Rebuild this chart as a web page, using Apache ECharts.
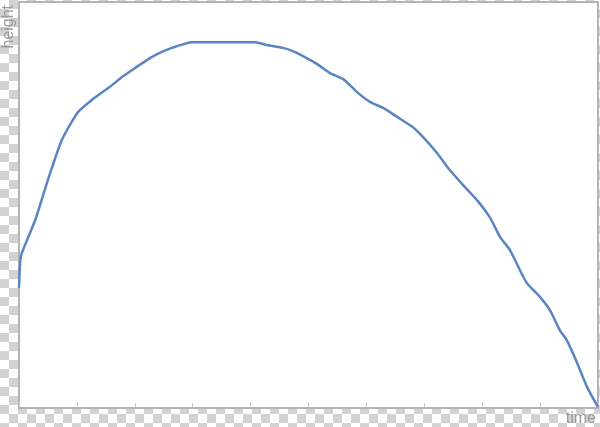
<!DOCTYPE html>
<html><head><meta charset="utf-8">
<script src="https://cdn.jsdelivr.net/npm/echarts@6/dist/echarts.min.js"></script>
<style>
html,body{margin:0;padding:0;}
#c{width:600px;height:427px;
background-color:#ffffff;
background-image:conic-gradient(#d2d2d2 25%, #ffffff 0 50%, #d2d2d2 0 75%, #ffffff 0);
background-size:18px 18px;}
</style></head><body><div id="c"></div>
<script>
const times = [0,0.02,0.05,0.28,0.50,0.74,1.02,1.26,1.54,1.78,2.00,2.35,2.64,2.99,4.08,4.28,4.56,4.73,4.97,5.15,5.37,5.60,5.84,6.06,6.29,6.53,6.80,6.98,7.22,7.44,7.67,7.91,8.13,8.31,8.48,8.65,8.77,9.00,9.17,9.34,9.46,9.64,9.81,10];
const heights = [29.6,36.0,38.2,46.3,56.2,66.0,72.9,75.9,78.8,81.5,83.7,86.9,88.7,90.1,90.1,89.4,88.7,87.9,86.2,84.7,82.5,81.0,77.8,75.4,73.9,71.7,69.2,66.7,62.8,58.6,54.9,51.2,47.0,42.1,38.9,34.0,30.8,27.3,24.1,19.2,16.7,11.1,5.2,0.2];
const xName = 'time';
const yName = 'height';

const chart = echarts.init(document.getElementById('c'));
chart.setOption({
  animation:false,
  backgroundColor:'transparent',
  grid:{left:19,right:2,top:2,bottom:19,show:true,backgroundColor:'#ffffff',borderColor:'#b4b4b4',borderWidth:2},
  xAxis:{type:'value',min:0,max:10,interval:1,
    name:xName,nameLocation:'end',nameGap:-2,
    nameTextStyle:{color:'#9a9a9a',fontSize:16,fontFamily:'Liberation Sans',align:'right',verticalAlign:'top',padding:[3,0,0,0]},
    axisLine:{show:true,lineStyle:{color:'#b4b4b4',width:2}},
    axisTick:{show:true,inside:true,length:5,lineStyle:{color:'#c4c4c4',width:1}},
    axisLabel:{show:false},splitLine:{show:false}},
  yAxis:{type:'value',min:0,max:100,
    name:yName,nameLocation:'end',nameGap:-3,nameRotate:90,
    nameTextStyle:{color:'#9a9a9a',fontSize:16,fontFamily:'Liberation Sans',align:'right',verticalAlign:'bottom',padding:[0,0,2,0]},
    axisLine:{show:true,lineStyle:{color:'#b4b4b4',width:2}},
    axisTick:{show:false},axisLabel:{show:false},splitLine:{show:false}},
  series:[{type:'line',data:times.map((t,i)=>[t,heights[i]]),showSymbol:false,smooth:0.2,
    lineStyle:{color:'#5b84c2',width:2.5}}]
});
</script></body></html>
